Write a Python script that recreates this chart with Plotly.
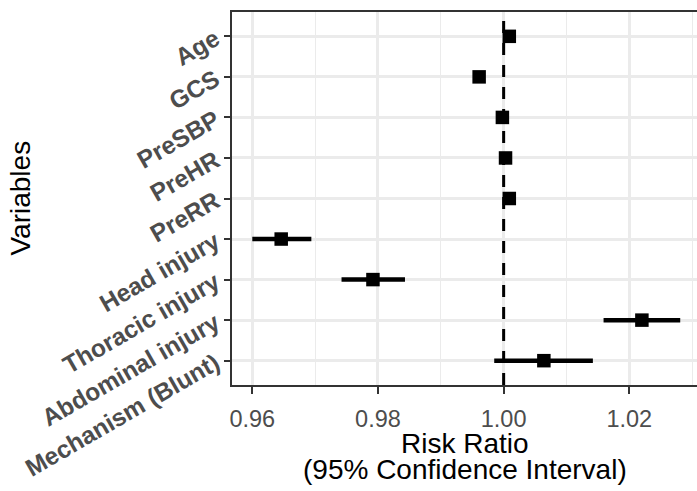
import plotly.graph_objects as go

variables = ["Age", "GCS", "PreSBP", "PreHR", "PreRR", "Head injury",
             "Thoracic injury", "Abdominal injury", "Mechanism (Blunt)"]
rr = [1.0009, 0.9961, 0.9998, 1.0003, 1.0009, 0.9646, 0.9792, 1.0220, 1.0064]
lower = [1.0004, 0.9957, 0.9996, 1.0001, 1.0005, 0.9600, 0.9742, 1.0159, 0.9985]
upper = [1.0014, 0.9965, 1.0000, 1.0005, 1.0013, 0.9694, 0.9843, 1.0281, 1.0142]
x_ticks = [0.96, 0.98, 1.00, 1.02]
x_ticklabels = ["0.96", "0.98", "1.00", "1.02"]
x_title_lines = ["Risk Ratio", "(95% Confidence Interval)"]
y_title = "Variables"

err_plus = [u - r for u, r in zip(upper, rr)]
err_minus = [r - l for r, l in zip(rr, lower)]

font_family = "Liberation Sans, Arial, Helvetica, sans-serif"

fig = go.Figure()
fig.add_trace(go.Scatter(
    x=rr, y=variables, mode="markers",
    marker=dict(symbol="square", size=13.5, color="black"),
    error_x=dict(type="data", symmetric=False, array=err_plus, arrayminus=err_minus,
                 thickness=4.5, width=0, color="black"),
    showlegend=False,
))

fig.add_shape(type="line", x0=1.0, x1=1.0, y0=0, y1=1, xref="x", yref="paper",
              line=dict(color="black", width=3, dash="12px,10px"))

# axis titles
fig.add_annotation(text=x_title_lines[0], xref="paper", yref="paper", x=0.5, y=0,
                   xanchor="center", yanchor="middle", yshift=-58, showarrow=False,
                   font=dict(size=28, color="black"))
fig.add_annotation(text=x_title_lines[1], xref="paper", yref="paper", x=0.5, y=0,
                   xanchor="center", yanchor="middle", yshift=-84, showarrow=False,
                   font=dict(size=28, color="black"))
fig.add_annotation(text=y_title, xref="paper", yref="paper", x=0, y=0.5,
                   xanchor="center", yanchor="middle", xshift=-212, textangle=-90,
                   showarrow=False, font=dict(size=28, color="black"))

fig.update_layout(
    width=697, height=491,
    margin=dict(l=232, r=0, t=12, b=106, autoexpand=False),
    paper_bgcolor="white", plot_bgcolor="white",
    font=dict(family=font_family),
    xaxis=dict(
        range=[0.95677, 1.03077],
        tickvals=x_ticks, ticktext=x_ticklabels,
        tickfont=dict(size=23.5, color="#4D4D4D"),
        ticks="outside", ticklen=7, tickcolor="#333333", tickwidth=2,
        ticklabelstandoff=5,
        showgrid=True, gridcolor="#EBEBEB", gridwidth=2.6,
        minor=dict(dtick=0.01, tick0=0.96, showgrid=True, gridcolor="#EBEBEB",
                   gridwidth=1.4, ticks=""),
        showline=True, linecolor="#333333", linewidth=1.5, mirror=True,
        zeroline=False, automargin=False,
    ),
    yaxis=dict(
        type="category", categoryorder="array", categoryarray=variables,
        range=[8.6, -0.6],
        tickfont=dict(size=24.5, color="#4D4D4D", weight="bold"),
        tickangle=-30,
        ticks="outside", ticklen=6, tickcolor="#333333", tickwidth=2,
        ticklabelstandoff=4,
        showgrid=True, gridcolor="#EBEBEB", gridwidth=2.6,
        showline=True, linecolor="#333333", linewidth=1.5, mirror=False,
        zeroline=False, automargin=False,
    ),
)

fig.write_html("out.html",
               config={"displayModeBar": False},
               post_script="document.body.style.margin='0';document.body.style.overflow='hidden';")
